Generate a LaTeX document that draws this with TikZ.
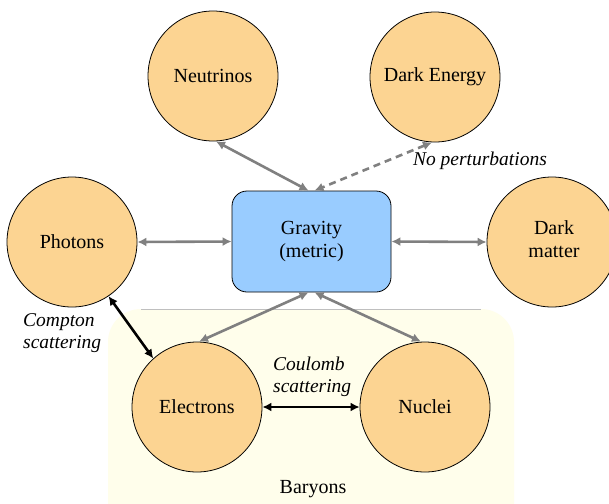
\documentclass[tikz,border=0pt]{standalone}
\usepackage{fontspec}
\setmainfont{Liberation Serif}
\usetikzlibrary{arrows.meta}
\definecolor{circfill}{RGB}{252,212,146}
\definecolor{gravfill}{RGB}{153,204,255}
\definecolor{baryfill}{RGB}{255,254,235}
\definecolor{arrgray}{RGB}{128,128,128}
\begin{document}
\begin{tikzpicture}[x=1pt,y=-1pt,
  every node/.style={font=\fontsize{20}{23}\selectfont},
  comp/.style={circle,draw=black,line width=0.8pt,fill=circfill,minimum size=130pt,inner sep=0pt,align=center},
  gravbox/.style={rectangle,rounded corners=15pt,draw=black,line width=0.8pt,fill=gravfill,minimum width=159pt,minimum height=101pt,align=center},
  garrow/.style={arrgray,line width=2.6pt,{Latex[length=9pt,width=9pt]}-{Latex[length=9pt,width=9pt]}},
  barrow/.style={black,line width=2.6pt,{Latex[length=9pt,width=9pt]}-{Latex[length=9pt,width=9pt]}},
  lbl/.style={font=\fontsize{19.5}{22}\selectfont\itshape,align=left,inner sep=0pt}]
\clip (0,0) rectangle (609,503);
\fill[white] (0,0) rectangle (609,503);
% Baryons region
\fill[baryfill,rounded corners=33pt] (108,309) rectangle (514,540);
\draw[gray!50,line width=0.8pt] (141,309) -- (481,309);
\node (bar) at (313,489) {Baryons};
% components
\node[comp] (neu) at (213,76) {Neutrinos};
\node[comp] (de) at (435,77) {Dark Energy};
\node[comp] (pho) at (72,242) {Photons};
\node[comp] (dm) at (552,242) {};
\node (dmt) at (554,239) [align=center] {Dark\\matter};
\node[comp] (ele) at (197,407) {Electrons};
\node[comp] (nuc) at (425,407) {Nuclei};
\node[gravbox] (grav) at (311.5,241.5) {Gravity\\(metric)};
% connectors
\draw[garrow] ([xshift=3pt]neu.south) -- ([xshift=-3pt]grav.north);
\draw[garrow,dash pattern=on 7pt off 5pt] ([xshift=-3pt]de.south) -- ([xshift=3pt]grav.north);
\draw[garrow] (pho.east) -- (grav.west);
\draw[garrow] (grav.east) -- (dm.west);
\draw[garrow] ([xshift=-3pt]grav.south) -- ([xshift=2pt]ele.north);
\draw[garrow] ([xshift=3pt]grav.south) -- ([xshift=-4pt]nuc.north);
\draw[barrow] (pho.-56) -- (ele.132);
\draw[barrow] (ele.east) -- (nuc.west);
% labels
\node[lbl,anchor=center] (np) at (480,161) {No perturbations};
\node[lbl,anchor=west] (cs) at (23,333) {Compton\\scattering};
\node[lbl,anchor=west] (cb) at (273,377) {Coulomb\\scattering};
\end{tikzpicture}
\end{document}
